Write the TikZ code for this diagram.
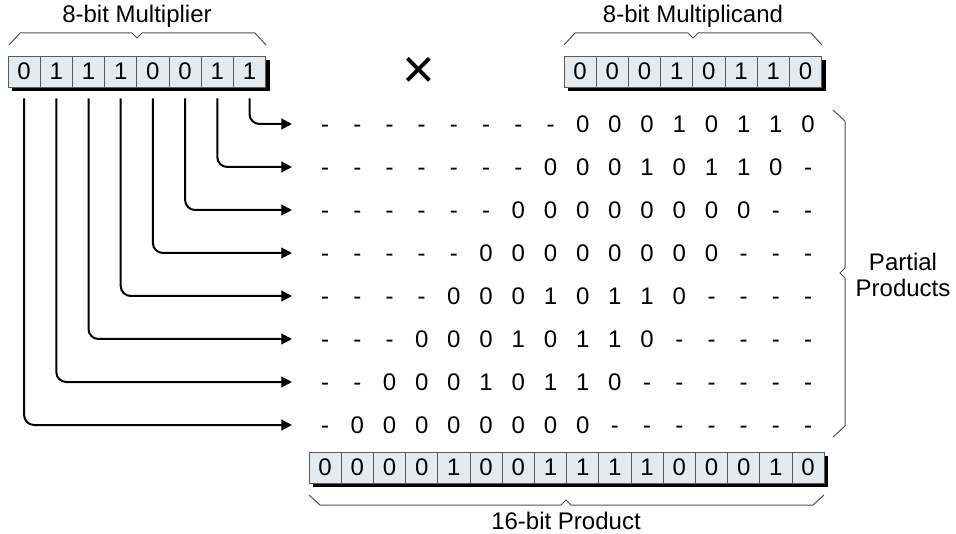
\documentclass[tikz,border=0pt]{standalone}
\usepackage{fontspec}
\setmainfont{Liberation Sans}
\usetikzlibrary{arrows.meta}
\tikzset{>={Triangle[length=8pt,width=8pt]}}
\definecolor{cellcol}{RGB}{228,235,239}
\definecolor{bordercol}{RGB}{90,90,90}
\definecolor{bracecol}{RGB}{80,80,80}
\tikzstyle{bit}=[draw=bordercol,fill=cellcol,line width=0.6pt,minimum width=24.15pt,minimum height=23.25pt,inner sep=0pt,font=\fontsize{18}{18}\selectfont]
\tikzstyle{digit}=[inner sep=0pt,text height=13pt,text depth=0pt,font=\fontsize{18}{18}\selectfont]
\tikzstyle{regname}=[inner sep=0pt,align=center,font=\fontsize{18}{20}\selectfont]
\tikzstyle{brace}=[draw=bracecol,line width=0.75pt]
\tikzstyle{feed}=[->,line width=1.5pt,rounded corners=7.5pt]

\begin{document}
\begin{tikzpicture}[x=0.75pt,y=-0.75pt]
  \def\cw{32.2}   % cell pitch
  \def\dy{43}     % row pitch
  \useasboundingbox (0,0) rectangle (956,534);

  % shadows under the registers
  \fill[black] (12,60) rectangle (269.6,91);
  \fill[black] (568,60) rectangle (825.6,91);
  \fill[black] (313,456) rectangle (828.2,487);

  % multiplier and multiplicand
  \foreach \b [count=\i from 0] in {0,1,1,1,0,0,1,1}
    \node[bit] (m\i) at (24.1+\cw*\i,71.5) {\b};
  \foreach \b [count=\i from 0] in {0,0,0,1,0,1,1,0}
    \node[bit] (n\i) at (580.1+\cw*\i,71.5) {\b};
  \node[font=\fontsize{42}{42}\selectfont,inner sep=0pt] (times) at (419,73) {×};

  % partial products
  \foreach \r/\bits in {
      1/{-,-,-,-,-,-,-,-,0,0,0,1,0,1,1,0},
      2/{-,-,-,-,-,-,-,0,0,0,1,0,1,1,0,-},
      3/{-,-,-,-,-,-,0,0,0,0,0,0,0,0,-,-},
      4/{-,-,-,-,-,0,0,0,0,0,0,0,0,-,-,-},
      5/{-,-,-,-,0,0,0,1,0,1,1,0,-,-,-,-},
      6/{-,-,-,0,0,0,1,0,1,1,0,-,-,-,-,-},
      7/{-,-,0,0,0,1,0,1,1,0,-,-,-,-,-,-},
      8/{-,0,0,0,0,0,0,0,0,-,-,-,-,-,-,-}} {
    \coordinate (a\r) at (292,124+\dy*\r-\dy);
    \foreach \d [count=\c from 0] in \bits
      \node[digit] (p\r-\c) at (325.1+\cw*\c,124+\dy*\r-\dy) {\d};
  }

  % each multiplier bit feeds one row
  \foreach \i [evaluate=\i as \r using int(8-\i)] in {0,...,7}
    \draw[feed] ([yshift=-8.25pt]m\i.south) |- (a\r);

  % product
  \foreach \b [count=\i from 0] in {0,0,0,0,1,0,0,1,1,1,1,0,0,0,1,0}
    \node[bit] (s\i) at (325.1+\cw*\i,467.5) {\b};

  % braces
  \draw[brace] (9,45) -- (20,33) -- (132,33) -- (137,38) -- (142,33) -- (255,33) -- (266,45);
  \draw[brace] (564,45) -- (575,33) -- (688,33) -- (693,38) -- (698,33) -- (811,33) -- (822,45);
  \draw[brace] (309,495) -- (320,505) -- (561,505) -- (566,500) -- (571,505) -- (813,505) -- (824,495);
  \draw[brace] (833,110) -- (845,121) -- (845,268) -- (840,273) -- (845,278) -- (845,426) -- (833,437);

  \node[regname] (mlabel) at (137,16) {8-bit Multiplier};
  \node[regname] (nlabel) at (693,16) {8-bit Multiplicand};
  \node[regname] (slabel) at (566,521) {16-bit Product};
  \node[regname] (plabel) at (903,275) {Partial\\Products};
\end{tikzpicture}
\end{document}
